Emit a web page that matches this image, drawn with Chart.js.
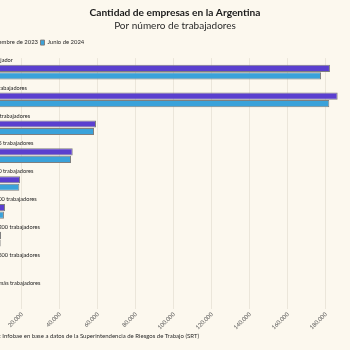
<!DOCTYPE html>
<html lang="es">
<head>
<meta charset="utf-8">
<title>Cantidad de empresas en la Argentina</title>
<script src="https://cdn.jsdelivr.net/npm/chart.js@4.4.1/dist/chart.umd.min.js"></script>
<style>
  html, body { margin: 0; padding: 0; width: 350px; height: 350px; overflow: hidden; background: #fcf8ee; }
  #wrap { position: absolute; left: -30px; top: 0; width: 410px; height: 350px; }
  #source { position: absolute; left: -19px; top: 332px; font: 6px Lato, sans-serif; line-height: 8px; color: #2a2a2a; white-space: nowrap; }
</style>
</head>
<body>
<div id="wrap"><canvas id="chart" width="410" height="350"></canvas></div>
<div id="source">Fuente: Infobae en base a datos de la Superintendencia de Riesgos de Trabajo (SRT)</div>
<script>
  // --- data ---
  const CATEGORIES = [
    '1 trabajador',
    '2 a 5 trabajadores',
    '6 a 10 trabajadores',
    '11 a 25 trabajadores',
    '26 a 50 trabajadores',
    '51 a 100 trabajadores',
    '101 a 200 trabajadores',
    '201 a 500 trabajadores',
    '501 o más trabajadores',
  ];
  const DIC_2023 = [182100, 186150, 58950, 46700, 18950, 11050, 8950, 3900, 1400];
  const JUN_2024 = [177400, 181750, 57900, 45800, 18600, 10500, 8780, 3800, 1380];
  const X_TICKS = [0, 20000, 40000, 60000, 80000, 100000, 120000, 140000, 160000, 180000];

  const PURPLE = '#5a3fcf';
  const BLUE   = '#3aa2da';
  const EDGE   = '#7f7f7f';
  const FONT   = 'Lato, sans-serif';

  // category names sit above each pair of bars, next to the zero line
  const groupLabels = {
    id: 'groupLabels',
    afterDatasetsDraw(chart) {
      const { ctx, chartArea, scales } = chart;
      ctx.save();
      ctx.font = '5.6px ' + FONT;
      ctx.fillStyle = '#222';
      ctx.textAlign = 'left';
      ctx.textBaseline = 'middle';
      CATEGORIES.forEach((name, i) => {
        ctx.fillText(name, chartArea.left - 1, scales.y.getPixelForValue(i) - 12);
      });
      ctx.restore();
    },
  };

  new Chart(document.getElementById('chart'), {
    type: 'bar',
    data: {
      labels: CATEGORIES,
      datasets: [
        { label: 'Diciembre de 2023', data: DIC_2023, backgroundColor: PURPLE, borderColor: EDGE, borderWidth: 1 },
        { label: 'Junio de 2024',     data: JUN_2024, backgroundColor: BLUE,   borderColor: EDGE, borderWidth: 1 },
      ],
    },
    options: {
      responsive: false,
      animation: false,
      indexAxis: 'y',
      layout: { padding: { left: 9, right: 9, top: 0, bottom: 17 } },
      datasets: { bar: { categoryPercentage: 0.54, barPercentage: 0.95 } },
      plugins: {
        title: {
          display: true,
          text: 'Cantidad de empresas en la Argentina',
          color: '#1a1a1a',
          font: { family: FONT, size: 10.2, weight: 'bold' },
          padding: { top: 6.9, bottom: 1 },
        },
        subtitle: {
          display: true,
          text: 'Por número de trabajadores',
          color: '#2a2a2a',
          font: { family: FONT, size: 10 },
          padding: { top: 0, bottom: 5 },
        },
        legend: {
          align: 'start',
          labels: {
            boxWidth: 4,
            boxHeight: 5,
            padding: 2.5,
            color: '#2a2a2a',
            font: { family: FONT, size: 5.9 },
          },
        },
        tooltip: { enabled: false },
      },
      scales: {
        x: {
          min: 0,
          max: 203700,
          afterBuildTicks: (scale) => { scale.ticks = X_TICKS.map((v) => ({ value: v })); },
          grid: { color: '#ebe6da', drawTicks: false },
          border: { display: false },
          ticks: {
            color: '#555',
            font: { family: FONT, size: 5.8 },
            minRotation: 45,
            maxRotation: 45,
            padding: 2,
            callback: (v) => (v === 0 ? '' : v.toLocaleString('de-DE')),
          },
        },
        // empty top axis, only a spacer under the legend
        xTop: {
          position: 'top',
          display: true,
          grid: { display: false, drawTicks: false },
          border: { display: false },
          ticks: { display: false },
          afterFit: (scale) => { scale.height = 2.6; },
        },
        // hidden category axis, kept only to indent the bars from the legend
        y: {
          display: true,
          grid: { display: false, drawTicks: false },
          border: { display: false },
          ticks: { display: false },
          afterFit: (scale) => { scale.width = 5; },
        },
      },
    },
    plugins: [groupLabels],
  });
</script>
</body>
</html>
